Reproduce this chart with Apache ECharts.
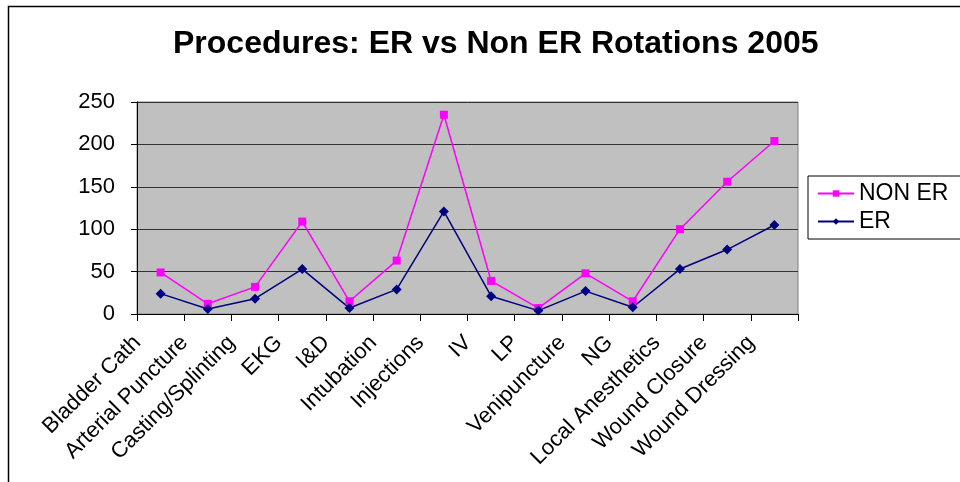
<!DOCTYPE html>
<html>
<head>
<meta charset="utf-8">
<title>Procedures: ER vs Non ER Rotations 2005</title>
<script src="https://cdn.jsdelivr.net/npm/echarts@6/dist/echarts.min.js"></script>
<style>
    html, body { margin: 0; padding: 0; background: #fff; }
    #main { width: 960px; height: 482px; }
</style>
</head>
<body>
<div id="main"></div>
<script>
// 数据
let categories = ['Bladder Cath', 'Arterial Puncture', 'Casting/Splinting', 'EKG', 'I&D', 'Intubation',
    'Injections', 'IV', 'LP', 'Venipuncture', 'NG', 'Local Anesthetics', 'Wound Closure', 'Wound Dressing'];
let nonErData = [49, 12, 32, 109, 15, 63, 235, 39, 7, 48, 15, 100, 156, 204];
let erData = [24, 6, 18, 53, 7, 29, 121, 21, 4, 27, 8, 53, 76, 105];
let yTicks = [0, 50, 100, 150, 200, 250];

let FONT = '"Liberation Sans", Arial, sans-serif';

let myChart = echarts.init(document.getElementById('main'));

let option = {
    backgroundColor: '#fff',
    animation: false,
    title: {
        text: 'Procedures: ER vs Non ER Rotations 2005',
        left: 168,
        top: 23,
        textStyle: {
            fontFamily: FONT,
            fontSize: 32,
            fontWeight: 'bold',
            color: '#000'
        }
    },
    // 外框
    graphic: [{
        type: 'rect',
        shape: { x: 8.5, y: 6.5, width: 1000, height: 1000 },
        style: { fill: 'none', stroke: '#000', lineWidth: 1.5 },
        silent: true
    }],
    legend: {
        left: 808,
        top: 176,
        orient: 'vertical',
        padding: [6, 20, 6, 9],
        itemGap: 5,
        itemWidth: 36,
        itemHeight: 8,
        borderColor: '#000',
        borderWidth: 1,
        backgroundColor: '#fff',
        textStyle: { fontFamily: FONT, fontSize: 23, color: '#000' },
        data: ['NON ER', 'ER']
    },
    grid: {
        left: 137,
        right: 162,
        top: 102,
        bottom: 168,
        show: true,
        backgroundColor: '#c0c0c0',
        borderColor: '#808080',
        borderWidth: 1
    },
    xAxis: {
        type: 'category',
        data: categories,
        boundaryGap: true,
        axisLine: { lineStyle: { color: '#000', width: 1 } },
        axisTick: { show: true, length: 7, lineStyle: { color: '#000' } },
        axisLabel: {
            interval: 0,
            rotate: 45,
            margin: 2,
            padding: [0, 33, 0, 0],
            fontFamily: FONT,
            fontSize: 22,
            color: '#000'
        }
    },
    yAxis: {
        type: 'value',
        min: yTicks[0],
        max: yTicks[yTicks.length - 1],
        interval: 50,
        axisLine: { show: true, lineStyle: { color: '#000', width: 1 } },
        axisTick: { show: true, length: 6, lineStyle: { color: '#000' } },
        axisLabel: {
            margin: 22,
            fontFamily: FONT,
            fontSize: 22,
            color: '#000'
        },
        splitLine: { show: true, lineStyle: { color: '#333', width: 1 } }
    },
    series: [{
        name: 'NON ER',
        type: 'line',
        data: nonErData,
        symbol: 'rect',
        symbolSize: 8,
        itemStyle: { color: '#ff00ff' },
        lineStyle: { color: '#ff00ff', width: 1.5 }
    }, {
        name: 'ER',
        type: 'line',
        data: erData,
        symbol: 'diamond',
        symbolSize: 10,
        itemStyle: { color: '#000080' },
        lineStyle: { color: '#000080', width: 1.5 }
    }]
};

myChart.setOption(option);
</script>
</body>
</html>
